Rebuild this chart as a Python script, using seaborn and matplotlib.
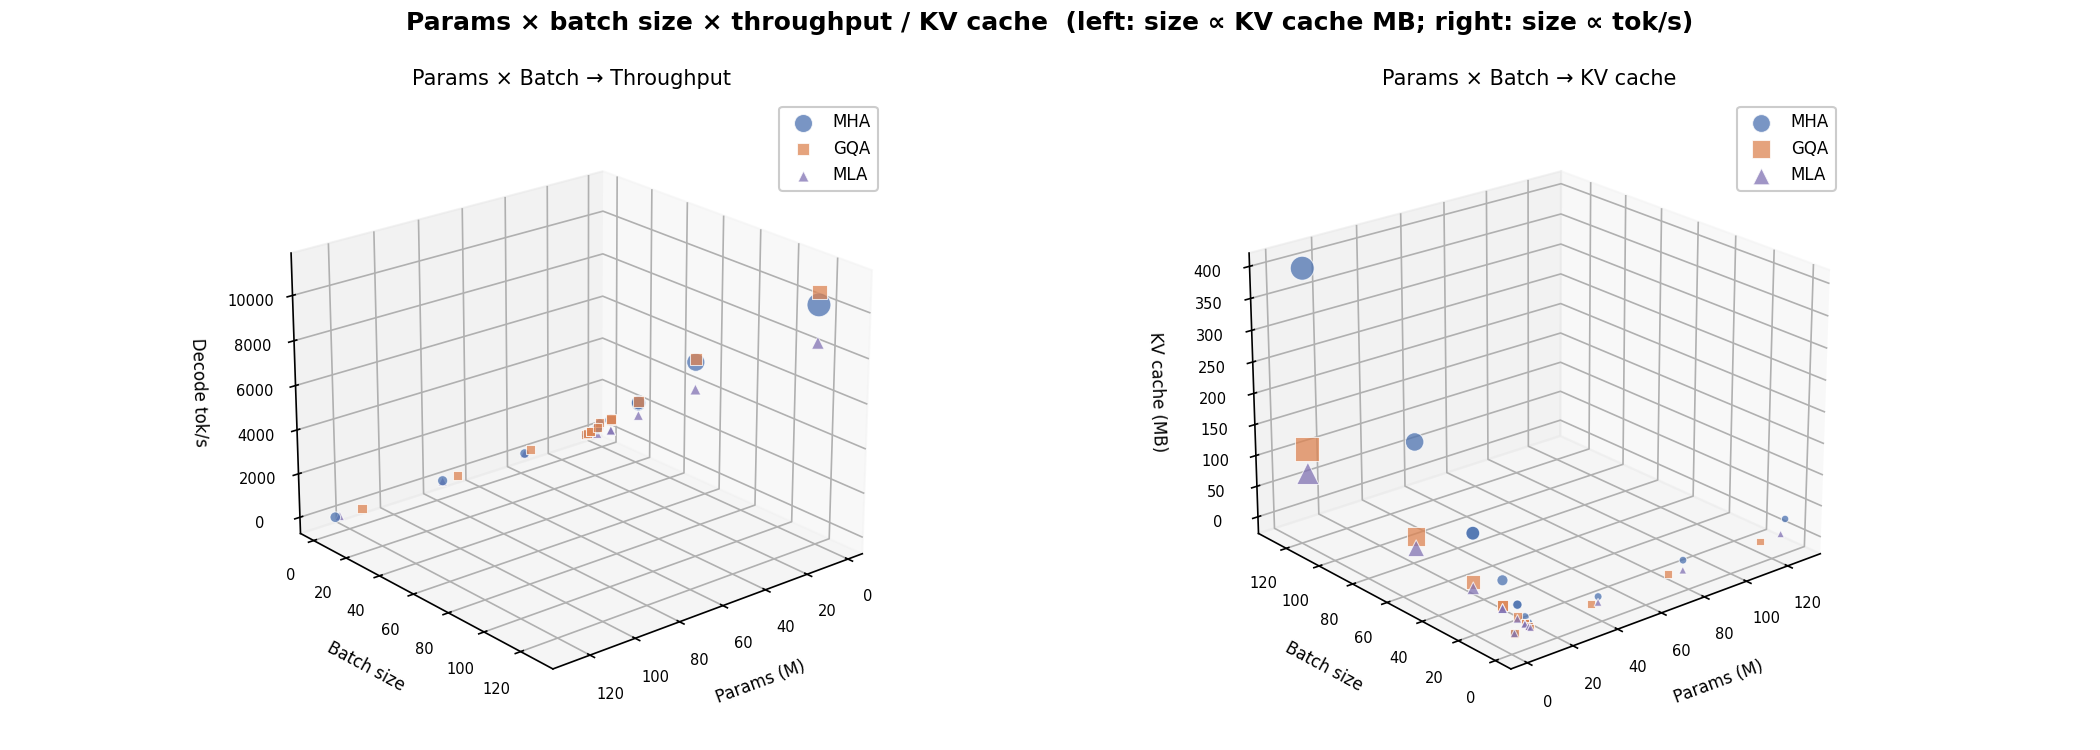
import matplotlib
matplotlib.use("Agg")
import matplotlib.pyplot as plt
import numpy as np
import seaborn as sns

sns.set_palette("deep")
deep = sns.color_palette("deep")

arch_names = ["MHA", "GQA", "MLA"]
arch_colors = [deep[0], deep[1], deep[4]]
arch_markers = ["o", "s", "^"]

batch_mha = [128, 64, 32, 32, 16, 8, 8, 4, 2, 1, 1, 1, 1, 1]
params_mha = [9, 9, 9, 9, 9, 9, 9, 9, 9, 9, 2, 39, 78, 127]
toks_mha = [10500, 5800, 2800, 2750, 1400, 700, 720, 400, 250, 150, 500, 190, 150, 60]
kv_mha = [392, 200, 102, 102, 52, 26, 26, 13, 7, 3, 1, 11, 20, 27]

batch_gqa = [128, 64, 32, 16, 16, 8, 4, 4, 2, 1, 1, 1, 1, 1]
params_gqa = [9, 9, 9, 9, 9, 9, 9, 9, 9, 9, 2, 36, 71, 115]
toks_gqa = [11050, 5950, 2850, 1420, 1440, 750, 420, 430, 260, 160, 520, 300, 180, 70]
kv_gqa = [105, 52, 26, 13, 13, 7, 3, 3, 2, 1, 1, 3, 6, 5]

batch_mla = [128, 64, 32, 16, 16, 8, 4, 4, 2, 1, 1, 1, 1, 1]
params_mla = [9, 9, 9, 9, 9, 9, 9, 9, 9, 9, 2, 39, 78, 125]
toks_mla = [8850, 4550, 2200, 900, 910, 450, 300, 300, 200, 120, 400, 180, 120, 50]
kv_mla = [65, 33, 16, 8, 8, 4, 2, 2, 1, 1, 1, 2, 4, 5]

series = [
    (batch_mha, params_mha, toks_mha, kv_mha),
    (batch_gqa, params_gqa, toks_gqa, kv_gqa),
    (batch_mla, params_mla, toks_mla, kv_mla),
]


def style_axes(ax, zlabel, title, elev, azim):
    ax.view_init(elev=elev, azim=azim)
    ax.set_xlabel("Params (M)", fontsize=8, labelpad=6)
    ax.set_ylabel("Batch size", fontsize=8, labelpad=6)
    ax.set_zlabel(zlabel, fontsize=8, labelpad=6)
    ax.set_title(title, fontsize=10, pad=6.5)
    ax.tick_params(labelsize=7)
    ax.legend(loc="upper right", fontsize=8, framealpha=1.0)


fig = plt.figure(figsize=(14, 5), dpi=150)
ax_tok = fig.add_subplot(121, projection="3d")
ax_kv = fig.add_subplot(122, projection="3d")
ax_tok.set_position([256 / 2100, 0.0288, 630 / 2100, 0.84])
ax_kv.set_position([1214 / 2100, 0.0288, 630 / 2100, 0.84])

for name, color, marker, (batch, params, toks, kv) in zip(arch_names, arch_colors, arch_markers, series):
    params = np.array(params, dtype=float)
    batch = np.array(batch, dtype=float)
    toks = np.array(toks, dtype=float)
    kv = np.array(kv, dtype=float)
    ax_tok.scatter(params, batch, toks, s=18 + 0.29 * kv, c=[color], marker=marker,
                   alpha=0.75, edgecolors="white", linewidths=0.5, label=name)
    ax_kv.scatter(params, batch, kv, s=12 + 0.0115 * toks, c=[color], marker=marker,
                  alpha=0.75, edgecolors="white", linewidths=0.5, label=name)

style_axes(ax_tok, "Decode tok/s", "Params × Batch → Throughput", 22, 50)
style_axes(ax_kv, "KV cache (MB)", "Params × Batch → KV cache", 22, 230)

fig.suptitle("Params × batch size × throughput / KV cache  (left: size ∝ KV cache MB; right: size ∝ tok/s)",
             fontsize=12, fontweight="bold", y=0.985)
fig.savefig("out.png", dpi=150)
